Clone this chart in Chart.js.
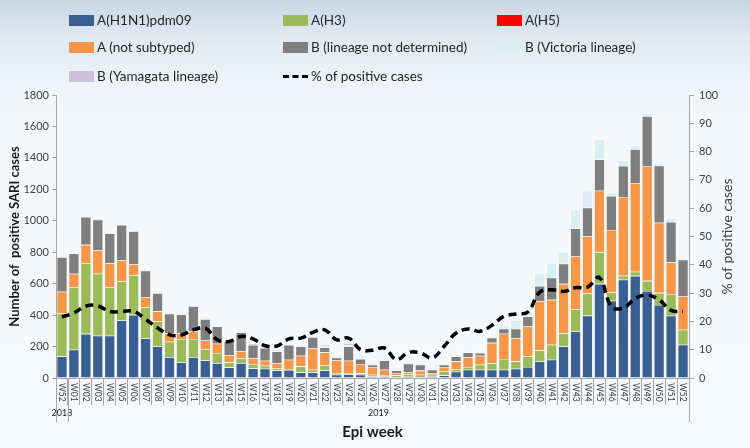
<!DOCTYPE html>
<html>
<head>
<meta charset="utf-8">
<script src="https://cdn.jsdelivr.net/npm/chart.js@4.4.1/dist/chart.umd.min.js"></script>
<style>
  html, body { margin: 0; padding: 0; }
  body { width: 750px; height: 448px; overflow: hidden; position: relative;
    background: linear-gradient(180deg, #c8d6e6 0px, #dfe8f1 35px, #eef3f8 80px, #f5f8fb 120px, #f6f9fc 448px);
    font-family: Lato, "Liberation Sans", sans-serif; }
  #c { position: absolute; left: 0; top: 0; }
  .lg { position: absolute; display: flex; align-items: center; font-size: 13.5px; color: #262626; white-space: nowrap; }
  .lg .box { width: 25px; height: 11px; margin-right: 3px; }
  .lg .dash { width: 25px; height: 0; border-top: 3.5px dashed #000; margin-right: 3px; }
</style>
</head>
<body>
<canvas id="c" width="750" height="448"></canvas>
<div id="legend"></div>
<script>
const weeks = ['W52','W01','W02','W03','W04','W05','W06','W07','W08','W09','W10','W11','W12','W13','W14','W15','W16','W17','W18','W19','W20','W21','W22','W23','W24','W25','W26','W27','W28','W29','W30','W31','W32','W33','W34','W35','W36','W37','W38','W39','W40','W41','W42','W43','W44','W45','W46','W47','W48','W49','W50','W51','W52'];
const years = ['2018', '2019'];
const yearFirstWeek = [0, 1];
const yearLastWeek = [0, 52];

const h1n1 = [138,180,281,269,269,366,402,252,201,133,99,133,112,95,68,95,61,59,49,51,36,36,49,21,23,21,11,11,6,8,6,8,17,40,53,53,53,53,59,70,105,116,201,296,397,599,492,625,650,554,465,396,212];
const h3 = [275,396,449,394,307,248,250,199,159,98,149,115,72,64,32,32,28,19,12,6,38,17,31,11,9,9,10,8,11,17,15,13,25,17,17,32,42,68,47,68,71,96,85,142,143,201,54,26,26,64,77,139,95];
const h5 = [0,0,0,0,0,0,0,0,0,0,0,0,0,0,0,0,0,0,0,0,0,0,0,0,0,0,0,0,0,0,0,0,0,0,0,0,0,0,0,0,0,0,0,0,0,0,0,0,0,0,0,0,0];
const aNotSubtyped = [136,87,117,148,155,136,72,64,64,53,38,48,55,59,46,42,38,32,34,59,68,135,83,80,78,59,49,34,15,13,26,11,28,49,63,57,129,161,148,190,313,285,313,335,362,391,396,501,561,731,446,201,212];
const bNotDetermined = [220,129,178,196,188,224,210,167,116,125,118,161,136,110,87,121,83,81,74,95,59,72,32,17,91,32,15,59,17,53,38,21,15,32,30,17,33,32,60,64,97,141,128,178,182,199,217,197,219,317,362,257,233];
const bVictoria = [0,0,0,0,0,0,0,0,0,0,0,0,0,0,0,0,0,4,5,3,6,2,10,8,8,4,4,9,4,8,10,4,4,6,8,6,10,22,53,32,77,92,75,118,113,127,20,36,20,17,17,23,0];
const bYamagata = [5,4,3,3,3,3,3,3,3,3,3,3,3,3,3,4,8,6,6,6,5,5,9,5,13,0,4,0,0,0,0,0,0,0,0,0,0,0,0,0,0,0,0,0,0,0,0,0,0,0,0,0,0];
const pctPositive = [21.6,23.0,25.4,25.5,23.5,23.5,23.6,20.8,17.7,15.3,15.2,17.0,17.6,13.5,12.9,14.7,13.8,11.4,11.3,13.8,14.1,16.1,17.0,13.5,14.1,10.0,9.8,10.6,6.5,9.0,8.9,7.1,11.2,15.9,17.3,16.5,18.6,21.8,22.6,23.3,30.3,31.2,30.6,31.9,32.1,35.5,25.3,24.7,28.1,29.3,27.6,23.9,23.5];

const FONT = 'Lato, "Liberation Sans", sans-serif';
const AX = '#a6a6a6';

function barSet(label, data, color) {
  return { type: 'bar', label, data, backgroundColor: color, borderColor: 'rgba(255,255,255,0.55)',
    borderWidth: 0.6, barPercentage: 0.88, categoryPercentage: 1, yAxisID: 'y', order: 1, stack: 's' };
}

const extras = {
  id: 'extras',
  afterDraw(chart) {
    const ctx = chart.ctx, x = chart.scales.x, area = chart.chartArea;
    const step = x.getPixelForValue(1) - x.getPixelForValue(0);
    ctx.save();
    // category labels, reading top to bottom
    ctx.font = '8.5px ' + FONT; ctx.fillStyle = '#404040';
    ctx.textAlign = 'left'; ctx.textBaseline = 'middle';
    weeks.forEach((w, i) => {
      const px = x.getPixelForValue(i);
      ctx.save(); ctx.translate(px, area.bottom + 5); ctx.rotate(Math.PI / 2);
      ctx.fillText(w, 0, 0); ctx.restore();
    });
    // year group separators and labels
    ctx.strokeStyle = AX; ctx.lineWidth = 1;
    ctx.font = '9px ' + FONT; ctx.fillStyle = '#262626'; ctx.textAlign = 'center';
    years.forEach((yr, k) => {
      const a = x.getPixelForValue(yearFirstWeek[k]) - step / 2;
      const b = x.getPixelForValue(yearLastWeek[k]) + step / 2;
      [a, b].forEach(px => {
        const p = Math.round(px) + 0.5;
        ctx.beginPath(); ctx.moveTo(p, area.bottom); ctx.lineTo(p, 422); ctx.stroke();
      });
      ctx.fillText(yr, (a + b) / 2, 413);
    });
    // right axis title, reading bottom to top
    ctx.font = '14px ' + FONT; ctx.fillStyle = '#404040'; ctx.textAlign = 'center';
    ctx.save(); ctx.translate(727, (area.top + area.bottom) / 2); ctx.rotate(-Math.PI / 2);
    ctx.fillText('% of positive cases', 0, 0); ctx.restore();
    ctx.restore();
  }
};

const chart = new Chart(document.getElementById('c'), {
  data: {
    labels: weeks,
    datasets: [
      barSet('A(H1N1)pdm09', h1n1, '#3a5f93'),
      barSet('A(H3)', h3, '#9bbb59'),
      barSet('A(H5)', h5, '#ff0000'),
      barSet('A (not subtyped)', aNotSubtyped, '#f79646'),
      barSet('B (lineage not determined)', bNotDetermined, '#7f7f7f'),
      barSet('B (Victoria lineage)', bVictoria, '#dbeef4'),
      barSet('B (Yamagata lineage)', bYamagata, '#ccc1da'),
      { type: 'line', label: '% of positive cases', data: pctPositive, yAxisID: 'y1', order: 0,
        borderColor: '#000', borderWidth: 3.5, borderDash: [8, 5], tension: 0.4,
        pointRadius: 0, fill: false, borderCapStyle: 'butt' }
    ]
  },
  options: {
    responsive: false, animation: false, devicePixelRatio: 1,
    layout: { padding: { top: 95, left: 0, right: 0, bottom: 0 } },
    plugins: { legend: { display: false }, tooltip: { enabled: false } },
    scales: {
      x: {
        stacked: true, offset: true,
        grid: { display: true, drawOnChartArea: false, offset: true, tickLength: 27, color: AX, lineWidth: 1 },
        border: { display: true, color: AX },
        ticks: { display: false },
        title: { display: true, text: 'Epi week', color: '#1a1a1a',
          font: { family: FONT, size: 15, weight: 'bold' }, padding: { top: 0, bottom: 7 } },
        afterFit(s) { s.height = 70; }
      },
      y: {
        stacked: true, min: 0, max: 1800, position: 'left',
        ticks: { stepSize: 200, color: '#404040', padding: 3, font: { family: FONT, size: 11 },
          callback: v => String(v) },
        grid: { drawOnChartArea: false, tickLength: 4, color: AX },
        border: { display: true, color: AX },
        title: { display: true, text: 'Number of  positive SARI cases', color: '#1a1a1a',
          font: { family: FONT, size: 13, weight: 'bold' }, padding: { top: 7 } },
        afterFit(s) { s.width = 56; }
      },
      y1: {
        min: 0, max: 100, position: 'right',
        ticks: { stepSize: 10, color: '#404040', padding: 5, font: { family: FONT, size: 11 },
          callback: v => String(v) },
        grid: { drawOnChartArea: false, tickLength: 5, color: AX },
        border: { display: true, color: AX },
        afterFit(s) { s.width = 61; }
      }
    }
  },
  plugins: [extras]
});

// HTML legend built from the chart datasets
const colX = [69, 283, 497], rowY = [20, 47, 76];
const lg = document.getElementById('legend');
chart.data.datasets.forEach((ds, i) => {
  const d = document.createElement('div');
  d.className = 'lg';
  d.style.left = colX[i % 3] + 'px';
  d.style.top = (rowY[Math.floor(i / 3)] - 9) + 'px';
  d.style.height = '18px';
  const sw = document.createElement('span');
  if (ds.type === 'line') { sw.className = 'dash'; }
  else { sw.className = 'box'; sw.style.background = ds.backgroundColor; }
  d.appendChild(sw);
  d.appendChild(document.createTextNode(ds.label));
  lg.appendChild(d);
});
</script>
</body>
</html>
